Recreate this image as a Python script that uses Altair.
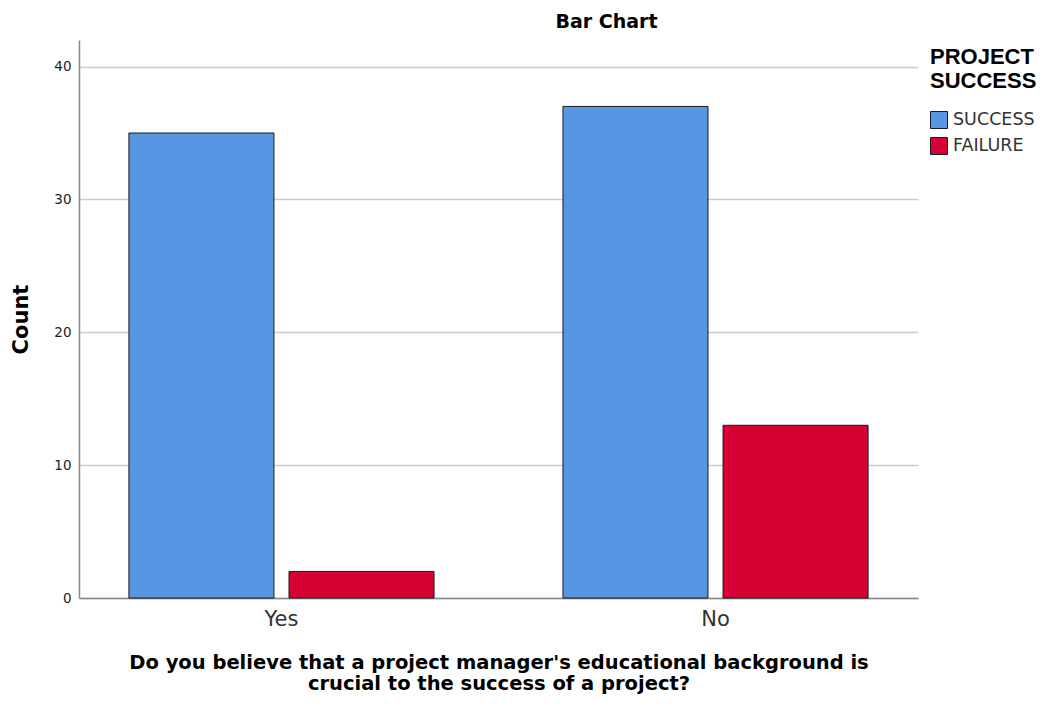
import altair as alt
import pandas as pd

answers = ["Yes", "Yes", "No", "No"]
outcomes = ["SUCCESS", "FAILURE", "SUCCESS", "FAILURE"]
counts = [35, 2, 37, 13]
answer_order = ["Yes", "No"]
outcome_order = ["SUCCESS", "FAILURE"]
outcome_colors = ["#5896E4", "#D60032"]
y_ticks = [0, 10, 20, 30, 40]

df = pd.DataFrame({"answer": answers, "outcome": outcomes, "count": counts})

BOLD = "DejaVu Sans"
REG = "DejaVu Sans"
LEG = "Liberation Sans"

chart = alt.Chart(df).mark_bar(stroke="#1a1a1a", strokeWidth=1).encode(
    x=alt.X(
        "answer:N",
        sort=answer_order,
        scale=alt.Scale(paddingInner=0.297, paddingOuter=0.115),
        axis=alt.Axis(
            title=["Do you believe that a project manager's educational background is",
                   "crucial to the success of a project?"],
            titleFont=BOLD, titleFontSize=19.5, titleFontWeight="bold", titleColor="#000",
            titlePadding=24, titleLineHeight=21,
            labelFont=REG, labelFontSize=21, labelColor="#333", labelAngle=0, labelPadding=10,
            ticks=False, domainColor="#888", domainWidth=1.5, grid=False,
        ),
    ),
    xOffset=alt.XOffset(
        "outcome:N", sort=outcome_order,
        scale=alt.Scale(paddingInner=0.094, paddingOuter=0),
    ),
    y=alt.Y(
        "count:Q",
        scale=alt.Scale(domain=[0, 42], nice=False),
        axis=alt.Axis(
            title="Count", values=y_ticks,
            titleFont=BOLD, titleFontSize=21, titleFontWeight="bold", titleColor="#000",
            titlePadding=22,
            labelFont=REG, labelFontSize=13.5, labelColor="#222", labelPadding=8,
            ticks=False, domainColor="#888", domainWidth=1.5,
            grid=True, gridColor="#cccccc", gridWidth=1.5,
        ),
    ),
    color=alt.Color(
        "outcome:N",
        sort=outcome_order,
        scale=alt.Scale(domain=outcome_order, range=outcome_colors),
        legend=alt.Legend(
            title=["PROJECT", "SUCCESS"],
            titleFont=LEG, titleFontSize=22, titleFontWeight="bold", titleColor="#000",
            titleLineHeight=24, titlePadding=18,
            labelFont=REG, labelFontSize=17.5, labelColor="#333", labelOffset=5,
            symbolType="square", symbolSize=289, symbolStrokeColor="#1a1a1a",
            symbolStrokeWidth=1, symbolOpacity=1, rowPadding=4,
            offset=5, padding=7,
        ),
    ),
).properties(
    width=839,
    height=558,
    title=alt.TitleParams(
        "Bar Chart", font=BOLD, fontSize=19, fontWeight="bold", color="#000",
        anchor="middle", dx=108, offset=8,
    ),
    padding={"left": 71, "top": 32, "right": 124, "bottom": 98},
    autosize=alt.AutoSizeParams(type="none"),
).configure_view(stroke=None)

chart.save("out.html", embed_options={"renderer": "svg", "actions": False})
